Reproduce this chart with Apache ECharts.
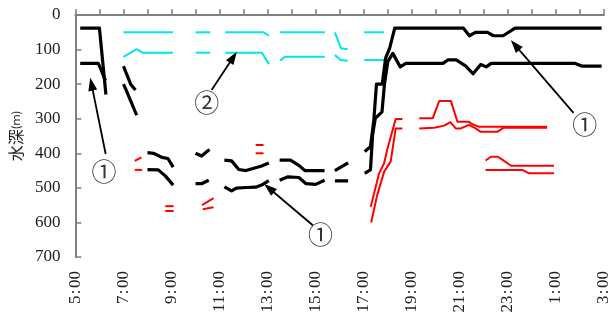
<!DOCTYPE html>
<html><head><meta charset="utf-8">
<script src="https://cdn.jsdelivr.net/npm/echarts@6/dist/echarts.min.js"></script>
<style>html,body{margin:0;padding:0;background:#fff}#c{width:613px;height:322px}</style>
</head><body><div id="c"></div>
<script>
// x = hour of day (24+ = next day), y = depth (m)
const hourTicks = [5,7,9,11,13,15,17,19,21,23,25,27];
const blackUpper = [
  [[5.2,38],[6.0,38],[6.27,230]],
  [[7.0,148],[7.3,200],[7.5,217]],
  [[8.0,398],[8.25,400],[8.6,412],[8.85,415],[9.07,440]],
  [[10.0,400],[10.25,408],[10.58,389]],
  [[11.2,420],[11.5,422],[11.8,447],[12.1,450],[12.5,442],[12.75,437],[13.05,428]],
  [[13.5,420],[13.95,420],[14.3,435],[14.55,450],[15.37,450]],
  [[15.8,450],[16.35,428]],
  [[17.04,395],[17.28,381],[17.42,304],[17.53,200],[17.77,200],[17.91,125],[18.08,96],[18.29,38],[21.15,38],[21.4,60],[21.65,50],[22.15,50],[22.4,60],[22.8,60],[23.3,38],[26.9,38]]
];
const blackLower = [
  [[5.2,140],[5.95,140],[6.05,155],[6.25,190]],
  [[7.0,200],[7.1,215],[7.55,290]],
  [[8.0,447],[8.45,448],[8.75,466],[9.07,492]],
  [[10.0,488],[10.25,488],[10.55,478]],
  [[11.2,497],[11.5,509],[11.7,501],[12.1,499],[12.5,498],[12.75,492],[13.05,479]],
  [[13.5,478],[13.85,468],[14.3,470],[14.6,488],[15.0,490],[15.37,478]],
  [[15.8,480],[16.35,480]],
  [[17.04,458],[17.28,448],[17.37,347],[17.48,299],[17.76,280],[17.86,202],[18.0,135],[18.21,111],[18.27,108],[18.52,150],[18.75,140],[20.3,140],[20.5,130],[20.85,130],[21.25,148],[21.55,170],[21.87,143],[22.1,150],[22.3,140],[25.8,140],[26.1,148],[26.9,148]]
];
const cyanUpper = [
  [[7.0,50],[9.06,50]],
  [[10.0,50],[10.61,50]],
  [[11.24,50],[12.83,50],[13.06,60]],
  [[13.52,50],[15.38,50]],
  [[15.8,50],[16.05,96],[16.33,99]],
  [[17.02,50],[17.85,50]]
];
const cyanLower = [
  [[7.0,121],[7.55,99],[7.8,109],[9.06,109]],
  [[10.0,109],[10.61,109]],
  [[11.24,109],[12.76,109],[13.06,142]],
  [[13.52,132],[13.72,121],[15.38,121]],
  [[15.8,116],[16.05,130],[16.33,132]],
  [[17.02,130],[17.85,130]]
];
const redUpper = [
  [[7.47,422],[7.75,412]],
  [[8.74,553],[9.09,553]],
  [[10.27,550],[10.75,530]],
  [[12.5,376],[12.83,376]],
  [[17.29,555],[17.64,458],[17.85,429],[17.99,386],[18.33,301],[18.61,301]],
  [[19.31,299],[19.87,299],[20.14,249],[20.63,249],[20.9,309],[21.38,309],[21.52,316],[21.79,323],[24.63,323]],
  [[22.07,421],[22.3,410],[22.58,410],[22.78,419],[23.13,436],[24.92,436]]
];
const redLower = [
  [[7.47,448],[7.78,448]],
  [[8.74,567],[9.09,567]],
  [[10.3,562],[10.75,556]],
  [[12.5,400],[12.83,400]],
  [[17.31,600],[17.56,521],[17.85,453],[18.12,424],[18.33,328],[18.61,328]],
  [[19.31,328],[19.93,326],[20.35,320],[20.6,310],[20.83,328],[21.04,328],[21.38,318],[21.66,328],[21.87,338],[22.56,338],[22.83,326],[24.63,326]],
  [[22.07,448],[23.6,448],[23.88,458],[24.92,458]]
];
// annotations (data coordinates)
const annoLabels = ['①','②','①','①'];
const annoAt = [[6.19,453],[10.47,254],[15.2,636],[26.2,318]];
const arrowFrom = [[6.26,402],[10.67,217],[14.88,608],[25.73,283]];
const arrowTo = [[5.67,200],[11.57,122],[13.06,501],[23.3,87]];

const series = [];
function addGroup(groups, color, width) {
  groups.forEach(seg => series.push({
    type: 'line', data: seg, symbol: 'none', silent: true,
    lineStyle: { color: color, width: width, join: 'round' }, z: 3
  }));
}
addGroup(cyanUpper, '#00e5ee', 2);
addGroup(cyanLower, '#00e5ee', 2);
addGroup(redUpper, '#ff0000', 2);
addGroup(redLower, '#ff0000', 2);
addGroup(blackUpper, '#000000', 3.2);
addGroup(blackLower, '#000000', 3.2);

series.push({
  type: 'scatter', silent: true, symbol: 'circle', symbolSize: 2,
  itemStyle: { color: 'rgba(0,0,0,0)' },
  labelLayout: { hideOverlap: false },
  data: annoAt.map((p, i) => [p[0], p[1], annoLabels[i]]),
  label: { show: true, position: 'inside', formatter: p => p.value[2],
           fontFamily: 'Noto Sans CJK JP', fontSize: 25, color: '#000' },
  markLine: {
    silent: true, animation: false, symbol: ['none', 'triangle'], symbolSize: [9, 13],
    label: { show: false },
    lineStyle: { color: '#000', width: 1.8, type: 'solid' },
    data: arrowFrom.map((f, i) => [{ coord: f }, { coord: arrowTo[i] }])
  },
  z: 5
});

const chart = echarts.init(document.getElementById('c'));
chart.setOption({
  animation: false,
  backgroundColor: '#fff',
  grid: { left: 73, right: 9, top: 15, bottom: 65 },
  xAxis: {
    type: 'value', min: 5, max: 27, interval: 1,
    axisLine: { lineStyle: { color: '#808080', width: 2 } },
    axisTick: { inside: true, length: 6, lineStyle: { color: '#808080', width: 1.5 } },
    splitLine: { show: false },
    axisLabel: {
      rotate: 90, margin: 14, color: '#222', fontFamily: 'Liberation Serif', fontSize: 17,
      formatter: v => hourTicks.indexOf(v) >= 0 ? (v % 24) + '\u200a:\u200a00' : ''
    }
  },
  yAxis: {
    type: 'value', inverse: true, min: 0, max: 700, interval: 100,
    name: '{a|水深}{b|(ｍ)}', nameLocation: 'middle', nameGap: 43, nameRotate: 90,
    nameTextStyle: { rich: {
      a: { fontFamily: 'Noto Sans CJK JP', fontSize: 16, color: '#222' },
      b: { fontFamily: 'Noto Sans CJK JP', fontSize: 11, color: '#222' } } },
    axisLine: { show: true, lineStyle: { color: '#808080', width: 2 } },
    axisTick: { show: true, inside: true, length: 6, lineStyle: { color: '#808080', width: 1.5 } },
    splitLine: { show: false },
    axisLabel: { margin: 15, color: '#222', fontFamily: 'Liberation Serif', fontSize: 17 }
  },
  series: series
});
</script></body></html>
